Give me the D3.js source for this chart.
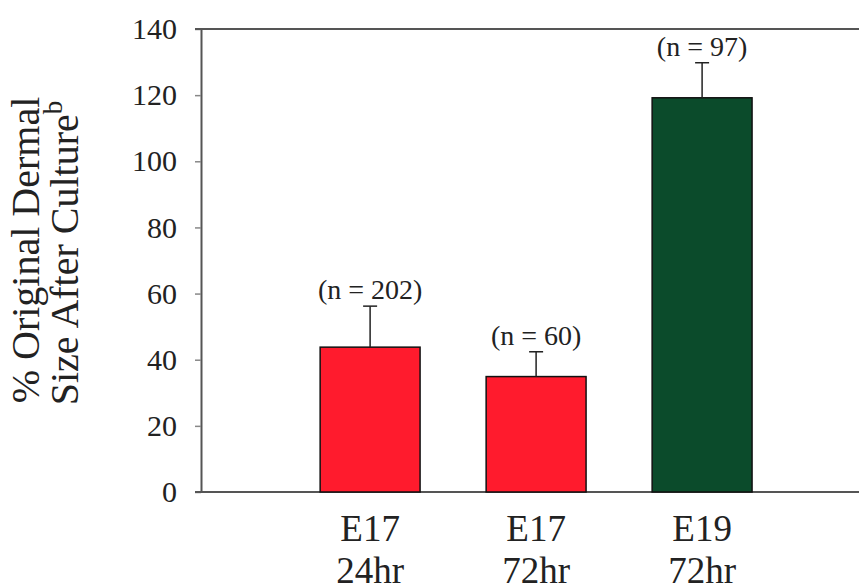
<!DOCTYPE html>
<html>
<head>
<meta charset="utf-8">
<script src="https://cdn.jsdelivr.net/npm/d3@7"></script>
<style>
  html, body { margin: 0; padding: 0; background: #fff; }
  svg { display: block; font-family: "Liberation Serif", "Times New Roman", serif; }
</style>
</head>
<body>
<div id="chart"></div>
<script>
// Chart data
const categories = ['E17|24hr', 'E17|72hr', 'E19|72hr'];
const means = [43.8, 34.9, 119.2];
const errors = [12.4, 7.5, 10.6];
const sampleLabels = ['(n = 202)', '(n = 60)', '(n = 97)'];
const barColors = ['#ff1b2d', '#ff1b2d', '#0b4b2b'];
const yTicks = [0, 20, 40, 60, 80, 100, 120, 140];

const width = 859, height = 585;
const plot = { left: 201, right: 859, top: 29, bottom: 492 };

const svg = d3.select('#chart').append('svg')
    .attr('width', width)
    .attr('height', height);

// Scales
const y = d3.scaleLinear()
    .domain([0, 140])
    .range([plot.bottom, plot.top]);

const x = d3.scaleBand()
    .domain(categories)
    .range([plot.left, plot.right])
    .paddingInner(0.398)
    .paddingOuter(0.681)
    .align(0.527);

// Left axis
const yAxis = d3.axisLeft(y)
    .tickValues(yTicks)
    .tickSizeInner(6)
    .tickSizeOuter(0)
    .tickPadding(18);

const gy = svg.append('g')
    .attr('transform', `translate(${plot.left},0)`)
    .call(yAxis);

gy.select('.domain').attr('stroke', '#555').attr('stroke-width', 2);
gy.selectAll('.tick line').attr('stroke', '#888').attr('stroke-width', 1.5);
gy.selectAll('.tick text')
    .attr('fill', '#222')
    .style('font-family', '"Liberation Serif", "Times New Roman", serif')
    .style('font-size', '30px');

// Top and bottom frame lines
svg.append('g').selectAll('line')
    .data([140, 0])
    .join('line')
    .attr('x1', plot.left - 6)
    .attr('x2', plot.right)
    .attr('y1', d => y(d))
    .attr('y2', d => y(d))
    .attr('stroke', '#555')
    .attr('stroke-width', 2);

// Bars
const bars = svg.append('g').selectAll('g')
    .data(categories)
    .join('g');

bars.append('rect')
    .attr('x', d => x(d))
    .attr('width', x.bandwidth())
    .attr('y', (d, i) => y(means[i]))
    .attr('height', (d, i) => y(0) - y(means[i]))
    .attr('fill', (d, i) => barColors[i])
    .attr('stroke', '#111')
    .attr('stroke-width', 1.5);

// Error bars (upper only)
const cx = d => x(d) + x.bandwidth() / 2;

bars.append('line')
    .attr('x1', cx)
    .attr('x2', cx)
    .attr('y1', (d, i) => y(means[i]))
    .attr('y2', (d, i) => y(means[i] + errors[i]))
    .attr('stroke', '#222')
    .attr('stroke-width', 1.5);

bars.append('line')
    .attr('x1', d => cx(d) - 7)
    .attr('x2', d => cx(d) + 7)
    .attr('y1', (d, i) => y(means[i] + errors[i]))
    .attr('y2', (d, i) => y(means[i] + errors[i]))
    .attr('stroke', '#222')
    .attr('stroke-width', 1.5);

// Sample size labels
bars.append('text')
    .attr('x', cx)
    .attr('y', (d, i) => y(means[i] + errors[i]) - 7)
    .attr('text-anchor', 'middle')
    .attr('fill', '#222')
    .style('font-size', '28px')
    .text((d, i) => sampleLabels[i]);

// Category labels, two lines each
const xLabels = svg.append('g').selectAll('text')
    .data(categories)
    .join('text')
    .attr('text-anchor', 'middle')
    .attr('fill', '#222')
    .style('font-size', '37px');

xLabels.append('tspan')
    .attr('x', cx)
    .attr('y', 541)
    .text(d => d.split('|')[0]);

xLabels.append('tspan')
    .attr('x', cx)
    .attr('y', 583)
    .text(d => d.split('|')[1]);

// Y axis title
const title = svg.append('g')
    .attr('transform', 'translate(0,250) rotate(-90)')
    .attr('fill', '#222')
    .style('font-size', '40px');

title.append('text')
    .attr('x', 0)
    .attr('y', 39)
    .attr('text-anchor', 'middle')
    .text('% Original Dermal');

const line2 = title.append('text')
    .attr('x', -3)
    .attr('y', 78)
    .attr('text-anchor', 'middle');
line2.append('tspan').text('Size After Culture');
line2.append('tspan')
    .attr('dy', -16)
    .style('font-size', '27px')
    .text('b');
</script>
</body>
</html>
